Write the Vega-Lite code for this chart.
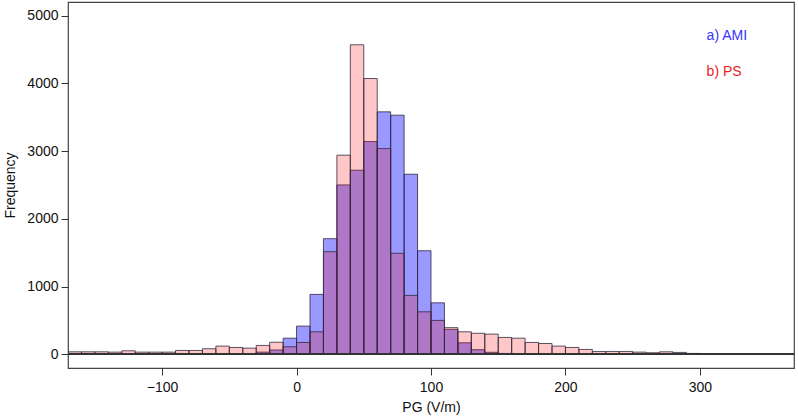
{
  "$schema": "https://vega.github.io/schema/vega-lite/v6.json",
  "width": 726,
  "height": 366,
  "autosize": {"type": "none"},
  "padding": {"left": 68, "top": 2, "right": 4, "bottom": 48},
  "background": "white",
  "config": {
    "font": "Liberation Sans",
    "view": {"stroke": "#444444", "strokeWidth": 1.2},
    "axis": {
      "domain": false,
      "grid": false,
      "tickColor": "#333333",
      "tickSize": 7,
      "labelFontSize": 14,
      "labelColor": "#111111",
      "titleFontSize": 14,
      "titleFontWeight": "normal",
      "titleColor": "#111111"
    }
  },
  "data": {
    "values": [
      {"lo": -170, "hi": -160, "AMI": 0, "PS": 39},
      {"lo": -160, "hi": -150, "AMI": 0, "PS": 39},
      {"lo": -150, "hi": -140, "AMI": 0, "PS": 39},
      {"lo": -140, "hi": -130, "AMI": 0, "PS": 34},
      {"lo": -130, "hi": -120, "AMI": 0, "PS": 54},
      {"lo": -120, "hi": -110, "AMI": 0, "PS": 34},
      {"lo": -110, "hi": -100, "AMI": 0, "PS": 34},
      {"lo": -100, "hi": -90, "AMI": 0, "PS": 34},
      {"lo": -90, "hi": -80, "AMI": 0, "PS": 59},
      {"lo": -80, "hi": -70, "AMI": 0, "PS": 59},
      {"lo": -70, "hi": -60, "AMI": 2, "PS": 84},
      {"lo": -60, "hi": -50, "AMI": 4, "PS": 123},
      {"lo": -50, "hi": -40, "AMI": 8, "PS": 103},
      {"lo": -40, "hi": -30, "AMI": 10, "PS": 93},
      {"lo": -30, "hi": -20, "AMI": 34, "PS": 133},
      {"lo": -20, "hi": -10, "AMI": 66, "PS": 180},
      {"lo": -10, "hi": 0, "AMI": 240, "PS": 113},
      {"lo": 0, "hi": 10, "AMI": 418, "PS": 177},
      {"lo": 10, "hi": 20, "AMI": 886, "PS": 334},
      {"lo": 20, "hi": 30, "AMI": 1708, "PS": 1516},
      {"lo": 30, "hi": 40, "AMI": 2501, "PS": 2940},
      {"lo": 40, "hi": 50, "AMI": 2718, "PS": 4569},
      {"lo": 50, "hi": 60, "AMI": 3141, "PS": 4071},
      {"lo": 60, "hi": 70, "AMI": 3579, "PS": 3037},
      {"lo": 70, "hi": 80, "AMI": 3530, "PS": 1492},
      {"lo": 80, "hi": 90, "AMI": 2659, "PS": 871},
      {"lo": 90, "hi": 100, "AMI": 1530, "PS": 629},
      {"lo": 100, "hi": 110, "AMI": 762, "PS": 502},
      {"lo": 110, "hi": 120, "AMI": 370, "PS": 395},
      {"lo": 120, "hi": 130, "AMI": 172, "PS": 334},
      {"lo": 130, "hi": 140, "AMI": 70, "PS": 312},
      {"lo": 140, "hi": 150, "AMI": 32, "PS": 300},
      {"lo": 150, "hi": 160, "AMI": 15, "PS": 251},
      {"lo": 160, "hi": 170, "AMI": 10, "PS": 240},
      {"lo": 170, "hi": 180, "AMI": 4, "PS": 177},
      {"lo": 180, "hi": 190, "AMI": 2, "PS": 162},
      {"lo": 190, "hi": 200, "AMI": 1, "PS": 123},
      {"lo": 200, "hi": 210, "AMI": 0, "PS": 103},
      {"lo": 210, "hi": 220, "AMI": 0, "PS": 74},
      {"lo": 220, "hi": 230, "AMI": 0, "PS": 44},
      {"lo": 230, "hi": 240, "AMI": 0, "PS": 44},
      {"lo": 240, "hi": 250, "AMI": 0, "PS": 44},
      {"lo": 250, "hi": 260, "AMI": 0, "PS": 34},
      {"lo": 260, "hi": 270, "AMI": 0, "PS": 25},
      {"lo": 270, "hi": 280, "AMI": 0, "PS": 39},
      {"lo": 280, "hi": 290, "AMI": 0, "PS": 30},
      {"lo": 290, "hi": 300, "AMI": 0, "PS": 15},
      {"lo": 300, "hi": 310, "AMI": 0, "PS": 12},
      {"lo": 310, "hi": 320, "AMI": 0, "PS": 10},
      {"lo": 320, "hi": 330, "AMI": 0, "PS": 8},
      {"lo": 330, "hi": 340, "AMI": 0, "PS": 6},
      {"lo": 340, "hi": 350, "AMI": 0, "PS": 5}
    ]
  },
  "layer": [
    {
      "mark": {"type": "bar", "clip": true, "fill": "#0000ff", "fillOpacity": 0.4, "stroke": "#2e2a40", "strokeWidth": 0.8},
      "encoding": {
        "x": {
          "field": "lo", "type": "quantitative",
          "scale": {"domain": [-170, 370], "nice": false, "zero": false},
          "axis": {"values": [-100, 0, 100, 200, 300], "format": "d", "title": "PG (V/m)", "labelPadding": 5, "titlePadding": 6}
        },
        "x2": {"field": "hi"},
        "y": {
          "field": "AMI", "type": "quantitative",
          "scale": {"domain": [-200, 5200], "nice": false, "zero": false},
          "axis": {"values": [0, 1000, 2000, 3000, 4000, 5000], "format": "d", "title": "Frequency", "labelPadding": 3, "titlePadding": 9}
        },
        "y2": {"datum": 0}
      }
    },
    {
      "mark": {"type": "bar", "clip": true, "fill": "#ff0000", "fillOpacity": 0.22, "stroke": "#2e2a40", "strokeWidth": 0.8},
      "encoding": {
        "x": {"field": "lo", "type": "quantitative"},
        "x2": {"field": "hi"},
        "y": {"field": "PS", "type": "quantitative"},
        "y2": {"datum": 0}
      }
    },
    {
      "mark": {"type": "rule", "color": "#333333", "strokeWidth": 1},
      "encoding": {"y": {"datum": 0}}
    },
    {
      "data": {
        "values": [
          {"label": "a) AMI", "series": "AMI", "px": 305, "py": 4700},
          {"label": "b) PS", "series": "PS", "px": 305, "py": 4170}
        ]
      },
      "mark": {"type": "text", "align": "left", "baseline": "middle", "fontSize": 14},
      "encoding": {
        "x": {"field": "px", "type": "quantitative"},
        "y": {"field": "py", "type": "quantitative"},
        "text": {"field": "label"},
        "color": {
          "field": "series", "type": "nominal",
          "scale": {"domain": ["AMI", "PS"], "range": ["#3535ff", "#ea1c24"]},
          "legend": null
        }
      }
    }
  ]
}
